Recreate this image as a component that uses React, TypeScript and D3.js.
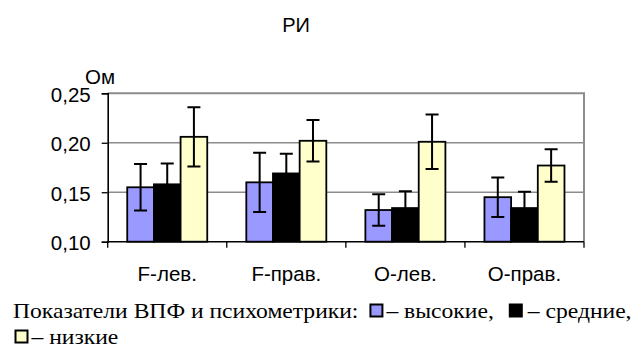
import React, { useEffect, useRef } from 'react';
import * as d3 from 'd3';

// Categories and series (resistance index, Ohm)
const categories = ['F-лев.', 'F-прав.', 'O-лев.', 'O-прав.'];
const seriesNames = ['высокие', 'средние', 'низкие'];
const highValues = [0.155, 0.16, 0.132, 0.145];
const highErrors = [0.0235, 0.03, 0.016, 0.02];
const midValues = [0.158, 0.169, 0.134, 0.134];
const midErrors = [0.021, 0.02, 0.017, 0.0165];
const lowValues = [0.206, 0.202, 0.201, 0.177];
const lowErrors = [0.03, 0.021, 0.0275, 0.0165];
const yTicks = [0.1, 0.15, 0.2, 0.25];
const seriesColors = ['#9999FF', '#000000', '#FFFFCC'];

const W = 639;
const H = 347;
const plot = { left: 107.7, right: 584, top: 93.3, bottom: 241.7 };

export default function App() {
  const ref = useRef<SVGSVGElement | null>(null);

  useEffect(() => {
    document.body.style.margin = '0';
    const svg = d3.select(ref.current);
    svg.selectAll('*').remove();

    const series = [
      { name: seriesNames[0], values: highValues, errors: highErrors, color: seriesColors[0] },
      { name: seriesNames[1], values: midValues, errors: midErrors, color: seriesColors[1] },
      { name: seriesNames[2], values: lowValues, errors: lowErrors, color: seriesColors[2] },
    ];

    const y = d3.scaleLinear().domain([0.1, 0.25]).range([plot.bottom, plot.top]);
    const x0 = d3
      .scaleBand<string>()
      .domain(categories)
      .range([plot.left, plot.right])
      .paddingInner(0.328)
      .paddingOuter(0.164);
    const x1 = d3
      .scaleBand<string>()
      .domain(seriesNames)
      .range([0, x0.bandwidth()]);

    const sans = 'Liberation Sans, Arial, sans-serif';
    const fs = 20.5;

    // Title
    svg
      .append('text')
      .attr('x', 296)
      .attr('y', 31.5)
      .attr('text-anchor', 'middle')
      .attr('font-family', sans)
      .attr('font-size', 20)
      .attr('fill', '#000')
      .text('РИ');

    // Unit label
    svg
      .append('text')
      .attr('x', 85)
      .attr('y', 83.5)
      .attr('font-family', sans)
      .attr('font-size', fs)
      .attr('fill', '#000')
      .text('Ом');

    // Gridlines
    svg
      .append('g')
      .selectAll('line')
      .data(yTicks.filter((t) => t > 0.1 && t < 0.25))
      .join('line')
      .attr('x1', plot.left)
      .attr('x2', plot.right)
      .attr('y1', (d) => y(d))
      .attr('y2', (d) => y(d))
      .attr('stroke', '#8c8c8c')
      .attr('stroke-width', 1.3);

    // Plot area border (top and right)
    svg
      .append('path')
      .attr('d', `M${plot.left},${plot.top}H${plot.right}V${plot.bottom}`)
      .attr('fill', 'none')
      .attr('stroke', '#8c8c8c')
      .attr('stroke-width', 2);

    // Bars
    series.forEach((s) => {
      svg
        .append('g')
        .selectAll('rect')
        .data(s.values)
        .join('rect')
        .attr('x', (_, i) => (x0(categories[i]) as number) + (x1(s.name) as number))
        .attr('y', (d) => y(d))
        .attr('width', x1.bandwidth())
        .attr('height', (d) => plot.bottom - y(d))
        .attr('fill', s.color)
        .attr('stroke', '#000')
        .attr('stroke-width', 1.8);
    });

    // Error bars
    const cap = 6.5;
    series.forEach((s) => {
      const g = svg.append('g').attr('stroke', '#000').attr('stroke-width', 2).attr('fill', 'none');
      s.values.forEach((v, i) => {
        const cx = (x0(categories[i]) as number) + (x1(s.name) as number) + x1.bandwidth() / 2;
        const yt = y(v + s.errors[i]);
        const yb = y(v - s.errors[i]);
        g.append('path').attr(
          'd',
          `M${cx},${yt}V${yb}M${cx - cap},${yt}H${cx + cap}M${cx - cap},${yb}H${cx + cap}`
        );
      });
    });

    // Y axis
    const yAxis = d3
      .axisLeft(y)
      .tickValues(yTicks)
      .tickSize(6)
      .tickPadding(11)
      .tickFormat((d) => d3.format('.2f')(d as number).replace('.', ','));
    const ya = svg.append('g').attr('transform', `translate(${plot.left},0)`).call(yAxis);
    ya.select('.domain').attr('stroke', '#000').attr('stroke-width', 1.6);
    ya.selectAll('.tick line').attr('stroke', '#000').attr('stroke-width', 1.3);
    ya.selectAll('.tick text')
      .attr('font-family', sans)
      .attr('font-size', fs)
      .attr('fill', '#000')
      .attr('dy', '0.4em');

    // X axis with boundary ticks between categories
    const xa = svg.append('g');
    xa.append('line')
      .attr('x1', plot.left)
      .attr('x2', plot.right)
      .attr('y1', plot.bottom)
      .attr('y2', plot.bottom)
      .attr('stroke', '#000')
      .attr('stroke-width', 1.6);
    const step = x0.step();
    const bounds = d3.range(categories.length + 1).map((i) => plot.left + i * step);
    xa.selectAll('line.tk')
      .data(bounds)
      .join('line')
      .attr('class', 'tk')
      .attr('x1', (d) => d)
      .attr('x2', (d) => d)
      .attr('y1', plot.bottom)
      .attr('y2', plot.bottom + 6)
      .attr('stroke', '#000')
      .attr('stroke-width', 1.3);
    xa.selectAll('text')
      .data(categories)
      .join('text')
      .attr('x', (d) => (x0(d) as number) + x0.bandwidth() / 2)
      .attr('y', 281)
      .attr('text-anchor', 'middle')
      .attr('font-family', sans)
      .attr('font-size', fs)
      .attr('fill', '#000')
      .text((d) => d);

    // Caption with inline legend swatches
    const serif = 'Liberation Serif, Times New Roman, serif';
    const capSize = 20;
    const stretch = 1.18;
    type Seg = { kind: 'text' | 'swatch' | 'gap'; value: string; w?: number };
    const lines: Seg[][] = [
      [
        { kind: 'text', value: 'Показатели ВПФ и психометрики:' },
        { kind: 'gap', value: '', w: 11 },
        { kind: 'swatch', value: seriesColors[0] },
        { kind: 'gap', value: '', w: 3 },
        { kind: 'text', value: '– высокие,' },
        { kind: 'gap', value: '', w: 15 },
        { kind: 'swatch', value: seriesColors[1] },
        { kind: 'gap', value: '', w: 5 },
        { kind: 'text', value: '– средние,' },
      ],
      [
        { kind: 'gap', value: '', w: 1.5 },
        { kind: 'swatch', value: seriesColors[2] },
        { kind: 'gap', value: '', w: 3 },
        { kind: 'text', value: '– низкие' },
      ],
    ];
    const baselines = [317.5, 343.5];
    lines.forEach((line, li) => {
      let cx = 13;
      const base = baselines[li];
      line.forEach((seg) => {
        if (seg.kind === 'text') {
          const t = svg
            .append('text')
            .attr('transform', `translate(${cx},${base}) scale(${stretch},1)`)
            .attr('font-family', serif)
            .attr('font-size', capSize)
            .attr('fill', '#000')
            .text(seg.value);
          cx += (t.node() as SVGTextElement).getComputedTextLength() * stretch;
        } else if (seg.kind === 'gap') {
          cx += seg.w || 0;
        } else {
          svg
            .append('rect')
            .attr('x', cx + 1)
            .attr('y', base - 13)
            .attr('width', 12)
            .attr('height', 12)
            .attr('fill', seg.value)
            .attr('stroke', '#000')
            .attr('stroke-width', 2);
          cx += 14;
        }
      });
    });
  }, []);

  return <svg ref={ref} width={W} height={H} style={{ display: 'block', background: '#fff' }} />;
}
